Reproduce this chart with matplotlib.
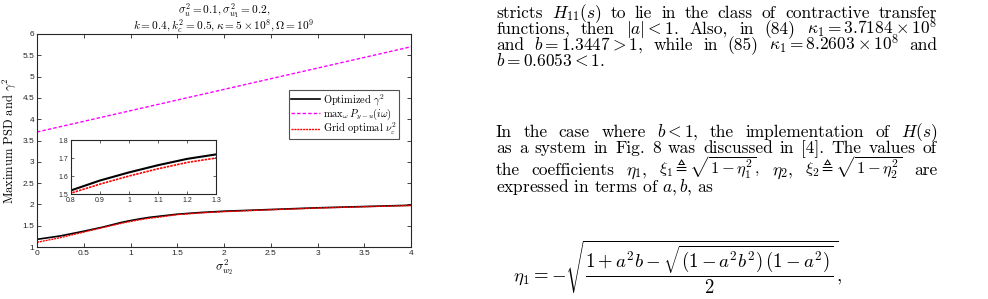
import matplotlib
matplotlib.use("Agg")
import matplotlib.pyplot as plt

# ---- data ----
x = [0, 0.25, 0.5, 0.7, 0.8, 0.9, 1.0, 1.1, 1.2, 1.3, 1.5, 1.75, 2.0, 2.5, 3.0, 3.5, 4.0]
gamma_opt = [1.18, 1.26, 1.37, 1.465, 1.52, 1.575, 1.62, 1.66, 1.695, 1.72, 1.77, 1.81, 1.84, 1.88, 1.92, 1.95, 1.98]
grid_opt = [1.11, 1.22, 1.35, 1.455, 1.505, 1.555, 1.60, 1.64, 1.675, 1.70, 1.76, 1.80, 1.83, 1.875, 1.915, 1.945, 1.975]
x_psd = [0, 4]
max_psd = [3.7, 5.7]

xticks = [0, 0.5, 1, 1.5, 2, 2.5, 3, 3.5, 4]
xticklabels = ["0", "0.5", "1", "1.5", "2", "2.5", "3", "3.5", "4"]
yticks = [1, 1.5, 2, 2.5, 3, 3.5, 4, 4.5, 5, 5.5, 6]
yticklabels = ["1", "1.5", "2", "2.5", "3", "3.5", "4", "4.5", "5", "5.5", "6"]
in_xticks = [0.8, 0.9, 1.0, 1.1, 1.2, 1.3]
in_xticklabels = ["0.8", "0.9", "1", "1.1", "1.2", "1.3"]
in_yticks = [1.5, 1.6, 1.7, 1.8]
in_yticklabels = ["1.5", "1.6", "1.7", "1.8"]

para1 = [
    r"stricts $H_{11}(s)$ to lie in the class of contractive transfer",
    r"functions, then $|a| < 1$. Also, in (84) $\kappa_1 = 3.7184 \times 10^8$",
    r"and $b = 1.3447 > 1$, while in (85) $\kappa_1 = 8.2603 \times 10^8$ and",
    r"$b = 0.6053 < 1$.",
]
para2 = [
    r"In the case where $b < 1$, the implementation of $H(s)$",
    r"as a system in Fig. 8 was discussed in [4]. The values of",
    r"the coefficients $\eta_1$, $\xi_1 \triangleq \sqrt{1-\eta_1^2}$, $\eta_2$, $\xi_2 \triangleq \sqrt{1-\eta_2^2}$ are",
    r"expressed in terms of $a, b$, as",
]
equation = r"$\eta_1 = -\sqrt{\dfrac{1 + a^2b - \sqrt{(1-a^2b^2)\,(1-a^2)}}{2}},$"

plt.rcParams["mathtext.fontset"] = "cm"
plt.rcParams["axes.unicode_minus"] = False
serif = "cmr10"
tickfont = "Liberation Sans"
tc = "#262626"
W, H = 988, 299

fig = plt.figure(figsize=(9.88, 2.99), dpi=100)

ax = fig.add_axes([37 / W, 1 - 247 / H, 374 / W, 213 / H])
ax.plot(x_psd, max_psd, color="#ff00ff", ls=(0, (2.5, 1.5)), lw=1.0,
        label=r"$\mathrm{max}_\omega\, P_{y-u}(i\omega)$")
ax.plot(x, gamma_opt, color="black", lw=1.2, label=r"Optimized $\gamma^2$")
ax.plot(x, grid_opt, color="red", ls=(0, (1.5, 0.6)), lw=1.0, label=r"Grid optimal $\nu_\varepsilon^2$")
ax.set_xlim(0, 4)
ax.set_ylim(1, 6)
ax.set_xticks(xticks)
ax.set_xticklabels(xticklabels)
ax.set_yticks(yticks)
ax.set_yticklabels(yticklabels)
ax.tick_params(direction="in", top=True, right=True, length=3, width=0.6, labelsize=6, pad=2, colors=tc)
for lab in ax.get_xticklabels() + ax.get_yticklabels():
    lab.set_fontfamily(tickfont)
for s in ax.spines.values():
    s.set_linewidth(0.8)
    s.set_color(tc)
ax.set_xlabel(r"$\sigma^2_{w_2}$", fontsize=9, labelpad=0)
ax.set_ylabel(r"Maximum PSD and $\gamma^2$", fontsize=9, family=serif, labelpad=3)
fig.text(224 / W, 1 - 11.5 / H, r"$\sigma_u^2 = 0.1, \sigma_{w_1}^2 = 0.2,$",
         fontsize=8.2, ha="center", va="center")
fig.text(224 / W, 1 - 26.5 / H, r"$k = 0.4, k_c^2 = 0.5, \kappa = 5\times 10^8, \Omega = 10^9$",
         fontsize=8.2, ha="center", va="center")
h, l = ax.get_legend_handles_labels()
leg = ax.legend([h[1], h[0], h[2]], [l[1], l[0], l[2]], loc="upper right",
                bbox_to_anchor=(1 - 12 / 374, 1 - 56 / 213), frameon=True, fancybox=False,
                edgecolor=tc, handlelength=2.8, handletextpad=0.3, borderpad=0.2,
                labelspacing=-0.1, borderaxespad=0, prop={"family": serif, "size": 7.5})
leg.get_frame().set_linewidth(0.8)

axin = fig.add_axes([71 / W, 1 - 194 / H, 145 / W, 54 / H])
axin.plot(x, gamma_opt, color="black", lw=1.5)
axin.plot(x, grid_opt, color="red", ls=(0, (1.5, 0.6)), lw=1.2)
axin.set_xlim(0.8, 1.3)
axin.set_ylim(1.5, 1.8)
axin.set_xticks(in_xticks)
axin.set_xticklabels(in_xticklabels)
axin.set_yticks(in_yticks)
axin.set_yticklabels(in_yticklabels)
axin.tick_params(direction="in", top=True, right=True, length=2, width=0.5, labelsize=5, pad=2, colors=tc)
for lab in axin.get_xticklabels() + axin.get_yticklabels():
    lab.set_fontfamily(tickfont)
for s in axin.spines.values():
    s.set_linewidth(0.8)
    s.set_color(tc)

# ---- right-hand text ----
fs = 12.5
X0, X1 = 496, 937


def split_tokens(s):
    toks, cur, inmath = [], "", False
    for ch in s:
        if ch == "$":
            inmath = not inmath
        if ch == " " and not inmath:
            if cur:
                toks.append(cur)
            cur = ""
        else:
            cur += ch
    if cur:
        toks.append(cur)
    return toks


renderer = fig.canvas.get_renderer()


def put_line(ypix, s, justify=True):
    if not justify:
        fig.text(X0 / W, 1 - ypix / H, s, fontsize=fs, family=serif, va="baseline", ha="left")
        return
    toks = split_tokens(s)
    texts = [fig.text(X0 / W, 1 - ypix / H, t,
                      fontsize=(11.8 if "sqrt" in t else fs),
                      family=serif, va="baseline", ha="left")
             for t in toks]
    widths = [t.get_window_extent(renderer).width for t in texts]
    gap = (X1 - X0 - sum(widths)) / max(len(texts) - 1, 1)
    pos = X0
    for t, w in zip(texts, widths):
        t.set_x(pos / W)
        pos += w + gap


ys1 = [18, 34, 50, 66]
for i, s in enumerate(para1):
    put_line(ys1[i], s, justify=(i < len(para1) - 1))
ys2 = [137, 153, 175, 192]
for i, s in enumerate(para2):
    put_line(ys2[i], s, justify=(i < len(para2) - 1))

fig.text(513 / W, 1 - 267 / H, equation, fontsize=13.5, va="center", ha="left")

fig.savefig("out.png", dpi=100)
